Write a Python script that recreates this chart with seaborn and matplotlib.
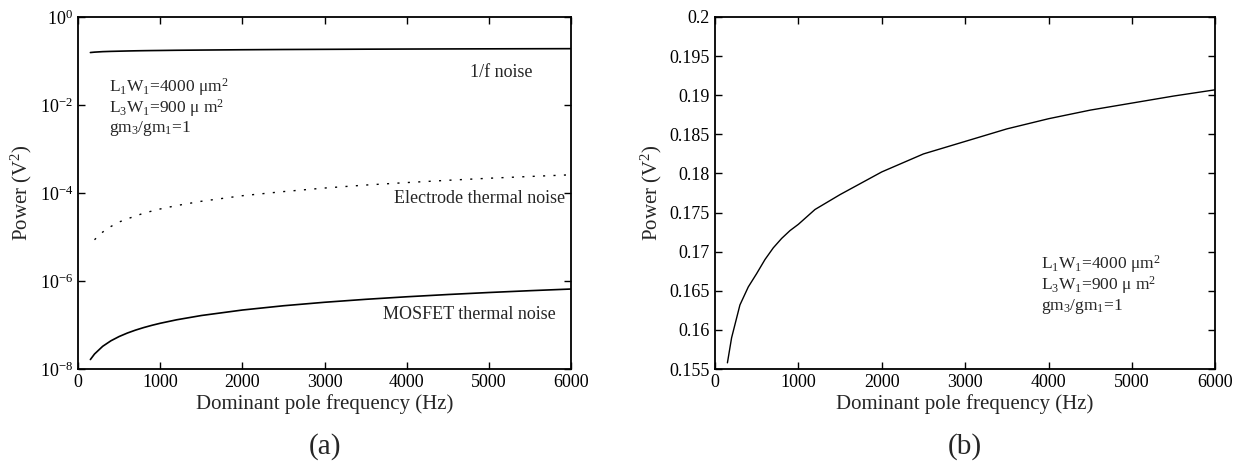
import numpy as np
import pandas as pd
import seaborn as sns
import matplotlib.pyplot as plt
from matplotlib.ticker import FixedLocator, NullLocator

# values
freq = [150, 200, 300, 400, 500, 600, 700, 800, 900, 1000, 1200, 1500, 2000, 2500, 3000, 3500,
        4000, 4500, 5000, 5500, 6000]
flicker = [0.1558, 0.1590, 0.1632, 0.1655, 0.1672, 0.1690, 0.1705, 0.1717, 0.1727, 0.1735,
           0.1754, 0.1773, 0.1802, 0.1825, 0.1841, 0.1857, 0.1870, 0.1881, 0.1890, 0.1899, 0.1907]
electrode = [6.5e-6, 8.7e-6, 1.3e-5, 1.74e-5, 2.2e-5, 2.6e-5, 3.0e-5, 3.5e-5, 3.9e-5, 4.35e-5,
             5.2e-5, 6.5e-5, 8.7e-5, 1.08e-4, 1.3e-4, 1.52e-4, 1.73e-4, 1.95e-4, 2.17e-4, 2.38e-4, 2.6e-4]
mosfet = [1.65e-8, 2.2e-8, 3.3e-8, 4.4e-8, 5.5e-8, 6.6e-8, 7.7e-8, 8.8e-8, 9.9e-8, 1.1e-7,
          1.32e-7, 1.65e-7, 2.2e-7, 2.75e-7, 3.3e-7, 3.85e-7, 4.4e-7, 4.95e-7, 5.5e-7, 6.05e-7, 6.6e-7]

df = pd.DataFrame({'freq': freq, 'flicker': flicker, 'electrode': electrode, 'mosfet': mosfet})

sns.set_theme(style="ticks")
plt.rcParams['font.family'] = ['Liberation Serif', 'DejaVu Serif']
plt.rcParams['mathtext.fontset'] = 'custom'
plt.rcParams['mathtext.rm'] = 'Liberation Serif'
plt.rcParams['mathtext.it'] = 'Liberation Serif:italic'

fig = plt.figure(figsize=(12.39, 4.72), dpi=100)
ax1 = fig.add_axes([0.063, 0.218, 0.398, 0.746])
ax2 = fig.add_axes([0.577, 0.218, 0.404, 0.746])

# (a) log plot of the three noise contributions
sns.lineplot(data=df, x='freq', y='flicker', ax=ax1, color='black', lw=1.2)
sns.lineplot(data=df[df.freq >= 200], x='freq', y='electrode', ax=ax1, color='black', lw=1.0,
             linestyle=(0, (1.5, 6)))
sns.lineplot(data=df, x='freq', y='mosfet', ax=ax1, color='black', lw=1.2)
ax1.set_yscale('log')
ax1.set_ylim(1e-8, 1)
ax1.set_xlim(0, 6000)
ax1.yaxis.set_major_locator(FixedLocator([1e-8, 1e-6, 1e-4, 1e-2, 1e0]))
ax1.yaxis.set_minor_locator(NullLocator())
ax1.set_yticklabels(['10$^{-8}$', '10$^{-6}$', '10$^{-4}$', '10$^{-2}$', '10$^{0}$'])
ax1.text(5150, 10**-1.25, '1/f noise', ha='center', va='center', fontsize=13)
ax1.text(4880, 10**-4.13, 'Electrode thermal noise', ha='center', va='center', fontsize=13)
ax1.text(4760, 10**-6.75, 'MOSFET thermal noise', ha='center', va='center', fontsize=13)
ax1.text(380, 10**-1.6, 'L$_1$W$_1$=4000 μm$^2$', ha='left', va='center', fontsize=12.5)
ax1.text(380, 10**-2.07, 'L$_3$W$_1$=900 μ m$^2$', ha='left', va='center', fontsize=12.5)
ax1.text(380, 10**-2.54, 'gm$_3$/gm$_1$=1', ha='left', va='center', fontsize=12.5)

# (b) 1/f noise on linear scale
sns.lineplot(data=df, x='freq', y='flicker', ax=ax2, color='black', lw=1.0)
ax2.set_ylim(0.155, 0.2)
ax2.set_xlim(0, 6000)
ax2.set_yticks([0.155, 0.16, 0.165, 0.17, 0.175, 0.18, 0.185, 0.19, 0.195, 0.2])
ax2.set_yticklabels(['0.155', '0.16', '0.165', '0.17', '0.175', '0.18', '0.185', '0.19', '0.195', '0.2'])
ax2.text(3910, 0.1684, 'L$_1$W$_1$=4000 μm$^2$', ha='left', va='center', fontsize=12.5)
ax2.text(3910, 0.1657, 'L$_3$W$_1$=900 μ m$^2$', ha='left', va='center', fontsize=12.5)
ax2.text(3910, 0.1630, 'gm$_3$/gm$_1$=1', ha='left', va='center', fontsize=12.5)

for ax in (ax1, ax2):
    ax.set_xticks([0, 1000, 2000, 3000, 4000, 5000, 6000])
    ax.tick_params(direction='in', top=True, right=True, labelsize=13, length=5, width=1, colors='black')
    for s in ax.spines.values():
        s.set_color('black')
        s.set_linewidth(1.3)
    ax.set_xlabel('Dominant pole frequency (Hz)', fontsize=15, labelpad=2)
    ax.set_ylabel('Power (V$^2$)', fontsize=15, labelpad=4)

fig.text(0.262, 0.055, '(a)', ha='center', va='center', fontsize=21)
fig.text(0.779, 0.055, '(b)', ha='center', va='center', fontsize=21)

fig.savefig('out.png', dpi=100, facecolor='white')
